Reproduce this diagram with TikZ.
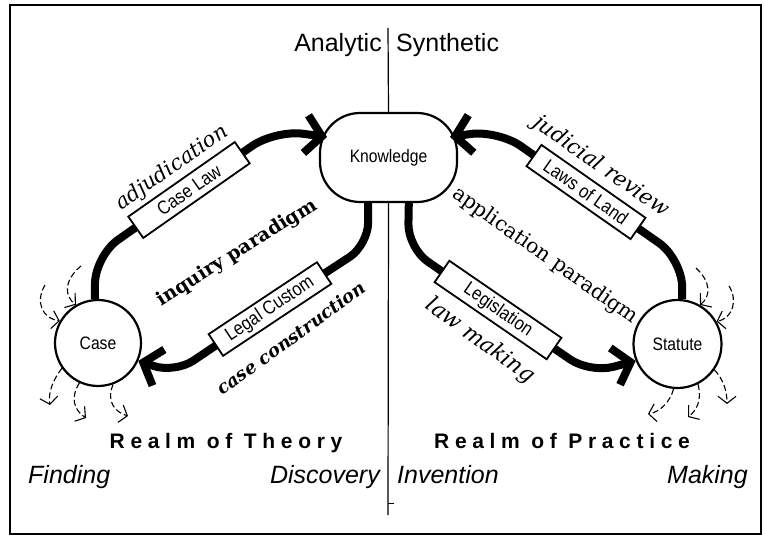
\documentclass[tikz,border=0pt]{standalone}
\usepackage{fontspec}
\newfontfamily\hv{Liberation Sans}
\newfontfamily\hvn[FakeStretch=0.87]{Liberation Sans}
\newfontfamily\realmfont[LetterSpace=27]{Liberation Sans}
\newfontfamily\dvs{DejaVu Serif}
\usetikzlibrary{arrows.meta,backgrounds}
\begin{document}
\begin{tikzpicture}[x=1pt,y=-1pt,
  thickpath/.style={line width=8pt, rounded corners=#1, -{Straight Barb[length=16pt,width=38pt]}},
  thickpath/.default=28pt,
  lawbox/.style={draw, line width=1.8pt, fill=white, minimum width=#1, minimum height=26pt, inner sep=0pt, font=\hvn\fontsize{19}{19}\selectfont},
  realm/.style={circle, draw, line width=2.2pt, minimum size=#1, inner sep=0pt, font=\hvn\fontsize{18}{18}\selectfont},
  dasharrow/.style={dash pattern=on 6pt off 3pt, line width=1.1pt, -{Straight Barb[length=7pt,width=18pt]}},
  sideword/.style={font=\hv\fontsize{25}{25}\selectfont, inner sep=0pt},
  sideital/.style={font=\hv\itshape\fontsize{25}{25}\selectfont, inner sep=0pt},
  realmword/.style={font=\realmfont\bfseries\fontsize{21}{21}\selectfont, inner sep=0pt},
  actword/.style={font=\dvs\itshape\fontsize{#1}{#1}\selectfont, inner sep=0pt},
  paraword/.style={inner sep=0pt}
]
\useasboundingbox (0,0) rectangle (765,537);
% frame
\draw[line width=1.2pt] (10,5) rectangle (761,534);

% main nodes
\node[draw, line width=2.2pt, rounded corners=40pt, minimum width=137pt, minimum height=89pt, inner sep=0pt,
      font=\hvn\fontsize{18}{18}\selectfont] (know) at (388.5,157.5) {Knowledge};
\node[realm=86pt] (case) at (98,343) {Case};
\node[realm=88pt] (statute) at (677.5,344) {Statute};

% dividing line
\coordinate (vtop) at (388,28);
\coordinate (vbot) at (388,515);
\coordinate (vtick) at (394,503);
\draw[line width=1.2pt] (vtop) -- (know.north);
\draw[line width=1.2pt] (know.south) -- (vbot);
\draw[line width=1pt] (vtick) -- (vtick -| vbot);

% boxes
\node[lawbox=130pt, rotate=35] (caselaw) at (189,190) {Case Law};
\node[lawbox=130pt, rotate=33.6] (legal) at (270,309) {Legal Custom};
\node[lawbox=127pt, rotate=-35] (laws) at (586,192) {Laws of Land};
\node[lawbox=136pt, rotate=-34.5] (legis) at (498,310) {Legislation};

% arrow tip coordinates on Knowledge
\coordinate (k1) at (327,137);
\coordinate (k3) at (450,137);

\begin{scope}[on background layer]
\draw[thickpath] (case.94) -- (95,256) -- (caselaw.center) -- (275,130) -- (k1);
\draw[thickpath=22pt] (know.-114) -- (368,245) -- (legal.center) -- (175,373) -- (case.-24);
\draw[thickpath] (statute.84) -- (682,259) -- (laws.center) -- (498,130) -- (k3);
\draw[thickpath=24pt] (know.-66) -- (408,248) -- (legis.center) -- (590,373) -- (statute.202);
\end{scope}

% dashed arrows around Case
\coordinate (ca1) at (81,266);
\coordinate (ca2) at (45,285);
\coordinate (ca3) at (50,405);
\coordinate (ca4) at (86,418);
\coordinate (ca5) at (128,416);
\draw[dasharrow] (ca1) .. controls (64,280) and (64,296) .. (case.120);
\draw[dasharrow] (ca2) .. controls (35,302) and (42,318) .. (case.150);
\draw[dasharrow] (case.215) .. controls (53,380) and (48,392) .. (ca3);
\draw[dasharrow] (case.245) .. controls (70,398) and (74,410) .. (ca4);
\draw[dasharrow] (case.290) .. controls (106,402) and (115,412) .. (ca5);

% dashed arrows around Statute
\coordinate (sa1) at (696,268);
\coordinate (sa2) at (729,286);
\coordinate (sa3) at (648,414);
\coordinate (sa4) at (688,417);
\coordinate (sa5) at (727,404);
\draw[dasharrow] (sa1) .. controls (711,282) and (711,296) .. (statute.60);
\draw[dasharrow] (sa2) .. controls (738,300) and (733,318) .. (statute.30);
\draw[dasharrow] (statute.265) .. controls (670,402) and (660,412) .. (sa3);
\draw[dasharrow] (statute.-63) .. controls (702,400) and (697,410) .. (sa4);
\draw[dasharrow] (statute.-35) .. controls (724,380) and (727,392) .. (sa5);

% top words
\node[sideword, anchor=base east] (analytic) at (382,52) {Analytic};
\node[sideword, anchor=base west] (synthetic) at (396,52) {Synthetic};

% realms
\node[realmword, anchor=base] (theory) at (226,448) {Realm of Theory};
\node[realmword, anchor=base] (practice) at (562,448) {Realm of Practice};

% bottom words
\node[sideital, anchor=base west] (finding) at (28,483) {Finding};
\node[sideital, anchor=base east] (discovery) at (380,483) {Discovery};
\node[sideital, anchor=base west] (invention) at (397,483) {Invention};
\node[sideital, anchor=base east] (making) at (748,483) {Making};

% activity labels
\node[actword=21, rotate=35] (adjud) at (172,168) {adjudication};
\node[actword=21.5, rotate=-35] (review) at (601,167) {judicial review};
\node[actword=22, rotate=-36] (lawmaking) at (480,341) {law making};
\node[paraword, rotate=36, font=\dvs\bfseries\itshape\fontsize{18}{18}\selectfont] (construct) at (291,338) {case construction};
\node[paraword, rotate=32, font=\dvs\bfseries\fontsize{19}{19}\selectfont] (inquiry) at (237,253) {inquiry paradigm};
\node[paraword, rotate=-35, font=\dvs\fontsize{20.5}{20.5}\selectfont] (application) at (545,256) {application paradigm};
\end{tikzpicture}
\end{document}
